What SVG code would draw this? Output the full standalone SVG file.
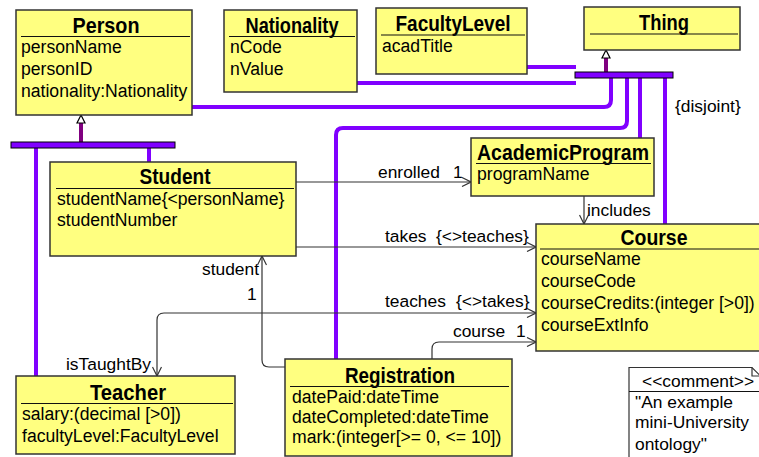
<svg xmlns="http://www.w3.org/2000/svg" width="759" height="457" viewBox="0 0 759 457">
  <defs>
    <style>
      .box { fill: #ffff80; stroke: #333; stroke-width: 1.5; }
      .sep { stroke: #111; stroke-width: 1.2; }
      .title { font-family: "Liberation Sans", Arial, sans-serif; font-size: 22px; font-weight: bold; fill: #000; text-anchor: middle; }
      .attr { font-family: "Liberation Sans", Arial, sans-serif; font-size: 17.6px; fill: #000; }
      .lbl { font-family: "Liberation Sans", Arial, sans-serif; font-size: 17.4px; fill: #000; }
      .assoc { fill: none; stroke: #333; stroke-width: 1.2; }
      .gen { fill: none; stroke: #8000ff; stroke-width: 4; }
      .bar { fill: #8000ff; stroke: #000; stroke-width: 1; }
      .stem { stroke: #800080; stroke-width: 4; }
      .tri { fill: #fff; stroke: #000; stroke-width: 1.2; }
    </style>
    <marker id="open" viewBox="0 0 10 10" refX="10" refY="5" markerWidth="10" markerHeight="10" markerUnits="userSpaceOnUse" orient="auto-start-reverse">
      <path d="M1,0.5 L10,5 L1,9.5" fill="none" stroke="#333" stroke-width="1.2"/>
    </marker>
  </defs>

  <!-- generalization and association connectors -->
  <g id="connectors">
    <!-- Thing hierarchy -->
    <path class="gen" d="M191,107 H604 Q611,107 611,100 V78"/>
    <path class="gen" d="M356,83 H576"/>
    <path class="gen" d="M527,67 H576"/>
    <path class="gen" d="M336,359 V135 Q336,128 343,128 H620 Q627,128 627,121 V78"/>
    <path class="gen" d="M640,78 V138"/>
    <path class="gen" d="M665,78 V224"/>
    <line class="stem" x1="606" y1="58" x2="606" y2="72"/>
    <path class="tri" d="M606,50 L610,58 L602,58 Z"/>
    <rect class="bar" x="575" y="72" width="98" height="6"/>
    <text class="lbl" x="675" y="112">{disjoint}</text>

    <!-- Person hierarchy -->
    <path class="gen" d="M36,148 V376"/>
    <path class="gen" d="M149,148 V162"/>
    <line class="stem" x1="81" y1="123" x2="81" y2="142"/>
    <path class="tri" d="M81,115 L85,123 L77,123 Z"/>
    <rect class="bar" x="11" y="142" width="164" height="6"/>

    <!-- enrolled -->
    <path class="assoc" d="M296,182 H471" marker-end="url(#open)"/>
    <text class="lbl" x="378" y="178">enrolled</text>
    <text class="lbl" x="453" y="178">1</text>

    <!-- includes -->
    <path class="assoc" d="M584,196 V224" marker-end="url(#open)"/>
    <text class="lbl" x="587" y="216">includes</text>

    <!-- takes -->
    <path class="assoc" d="M296,247 H536" marker-end="url(#open)"/>
    <text class="lbl" x="385" y="242">takes</text>
    <text class="lbl" x="436" y="242">{&lt;&gt;teaches}</text>

    <!-- teaches / isTaughtBy -->
    <path class="assoc" d="M157,376 V320 Q157,313 164,313 H536" marker-start="url(#open)" marker-end="url(#open)"/>
    <text class="lbl" x="385" y="307">teaches</text>
    <text class="lbl" x="456" y="307">{&lt;&gt;takes}</text>
    <text class="lbl" x="66" y="370">isTaughtBy</text>

    <!-- student -->
    <path class="assoc" d="M285,367 H269 Q262,367 262,360 V256" marker-end="url(#open)"/>
    <text class="lbl" x="259" y="275" text-anchor="end">student</text>
    <text class="lbl" x="247" y="300">1</text>

    <!-- course -->
    <path class="assoc" d="M432,359 V349 Q432,342 439,342 H536" marker-end="url(#open)"/>
    <text class="lbl" x="453" y="337">course</text>
    <text class="lbl" x="516" y="337">1</text>
  </g>

  <g id="person">
    <rect class="box" x="16" y="10" width="176" height="105"/>
    <text class="title" x="106" y="33" textLength="67" lengthAdjust="spacingAndGlyphs">Person</text>
    <line class="sep" x1="21" y1="36.5" x2="190" y2="36.5"/>
    <text class="attr" x="21" y="53">personName</text>
    <text class="attr" x="21" y="75">personID</text>
    <text class="attr" x="21" y="97">nationality:Nationality</text>
  </g>

  <g id="nationality">
    <rect class="box" x="224" y="10" width="133" height="82"/>
    <text class="title" x="292" y="33" textLength="93" lengthAdjust="spacingAndGlyphs">Nationality</text>
    <line class="sep" x1="229" y1="36.5" x2="355" y2="36.5"/>
    <text class="attr" x="230" y="53">nCode</text>
    <text class="attr" x="230" y="75">nValue</text>
  </g>

  <g id="facultylevel">
    <rect class="box" x="376" y="8" width="151" height="66"/>
    <text class="title" x="453" y="31" textLength="115" lengthAdjust="spacingAndGlyphs">FacultyLevel</text>
    <line class="sep" x1="381" y1="35" x2="525" y2="35"/>
    <text class="attr" x="382" y="52">acadTitle</text>
  </g>

  <g id="thing">
    <rect class="box" x="584" y="7" width="156" height="43"/>
    <text class="title" x="664" y="30" textLength="50" lengthAdjust="spacingAndGlyphs">Thing</text>
    <line class="sep" x1="590" y1="34" x2="738" y2="34"/>
  </g>

  <g id="student">
    <rect class="box" x="50" y="162" width="246" height="94"/>
    <text class="title" x="175" y="184" textLength="71" lengthAdjust="spacingAndGlyphs">Student</text>
    <line class="sep" x1="56" y1="188.5" x2="294" y2="188.5"/>
    <text class="attr" x="57" y="205">studentName{&lt;personName}</text>
    <text class="attr" x="57" y="226">studentNumber</text>
  </g>

  <g id="academicprogram">
    <rect class="box" x="471" y="138" width="183" height="58"/>
    <text class="title" x="563" y="160" textLength="172" lengthAdjust="spacingAndGlyphs">AcademicProgram</text>
    <line class="sep" x1="476" y1="163.5" x2="651" y2="163.5"/>
    <text class="attr" x="477" y="180">programName</text>
  </g>

  <g id="course">
    <rect class="box" x="536" y="224" width="240" height="127"/>
    <text class="title" x="654" y="245" textLength="67" lengthAdjust="spacingAndGlyphs">Course</text>
    <line class="sep" x1="540" y1="249" x2="770" y2="249"/>
    <text class="attr" x="541" y="265">courseName</text>
    <text class="attr" x="541" y="287">courseCode</text>
    <text class="attr" x="541" y="309">courseCredits:(integer [&gt;0])</text>
    <text class="attr" x="541" y="331">courseExtInfo</text>
  </g>

  <g id="teacher">
    <rect class="box" x="16" y="376" width="219" height="78"/>
    <text class="title" x="128" y="400" textLength="76" lengthAdjust="spacingAndGlyphs">Teacher</text>
    <line class="sep" x1="21" y1="403.5" x2="233" y2="403.5"/>
    <text class="attr" x="22" y="420">salary:(decimal [&gt;0])</text>
    <text class="attr" x="22" y="442">facultyLevel:FacultyLevel</text>
  </g>

  <g id="registration">
    <rect class="box" x="285" y="359" width="227" height="97"/>
    <text class="title" x="400" y="383" textLength="110" lengthAdjust="spacingAndGlyphs">Registration</text>
    <line class="sep" x1="290" y1="386.5" x2="509" y2="386.5"/>
    <text class="attr" x="292" y="403">datePaid:dateTime</text>
    <text class="attr" x="292" y="423">dateCompleted:dateTime</text>
    <text class="attr" x="292" y="443">mark:(integer[&gt;= 0, &lt;= 10])</text>
  </g>

  <g id="comment">
    <path d="M629,470 V367.5 H752 L762,377.5 V470" fill="#fff" stroke="#333" stroke-width="1.2"/>
    <path d="M752,367.5 V376 H760" fill="none" stroke="#333" stroke-width="1.2"/>
    <line class="sep" x1="629" y1="391.5" x2="760" y2="391.5"/>
    <text class="lbl" x="642" y="387">&lt;&lt;comment&gt;&gt;</text>
    <text class="lbl" x="635" y="408">"An example</text>
    <text class="lbl" x="635" y="428">mini-University</text>
    <text class="lbl" x="635" y="450">ontology"</text>
  </g>
</svg>
